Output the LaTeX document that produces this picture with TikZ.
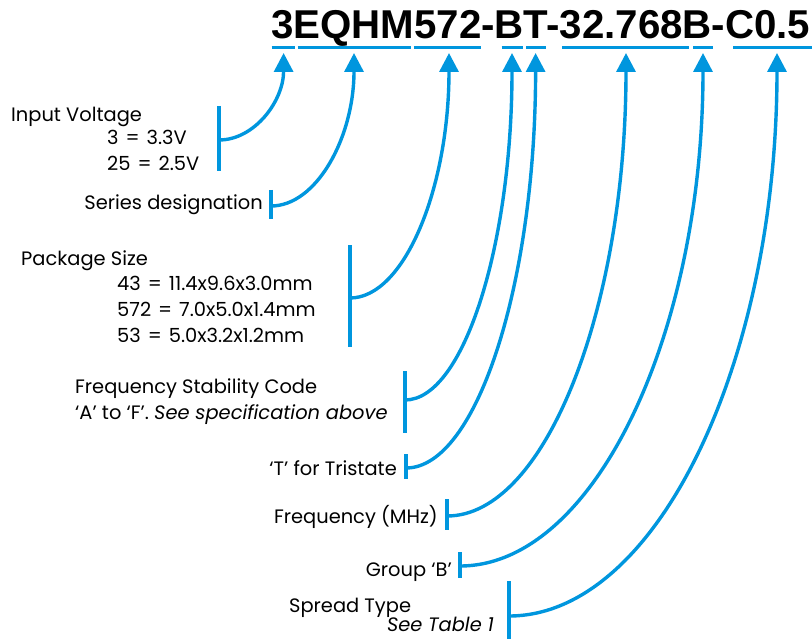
\documentclass[tikz,border=0pt]{standalone}
\usepackage{fontspec}
\setmainfont{Poppins}[Numbers=Monospaced]
\newfontfamily\titlefont{Liberation Sans}
\usetikzlibrary{arrows.meta,calc}
\definecolor{ebl}{RGB}{0,150,222}
\newcommand{\eqs}{\hspace{0.36em}=\hspace{0.36em}}
\tikzset{
  lbl/.style={inner sep=0pt, font=\fontsize{19.5}{23}\selectfont, text=black},
  bar/.style={draw=ebl, line width=3.6bp},
  uline/.style={draw=ebl, line width=3.6bp},
  conn/.style={draw=ebl, line width=3.4bp, -{Triangle[width=19bp,length=19bp]}},
}
\begin{document}
\begin{tikzpicture}[x=1bp,y=-1bp]
\useasboundingbox (0,0) rectangle (812,639);
% title
\node[anchor=base west, inner sep=0pt, font=\titlefont\bfseries\fontsize{40.4}{44}\selectfont] (title) at (271,39) {3EQHM572-BT-32.768B-C0.5};
% underlines
\foreach \a/\b in {271.6/294.5, 297.7/410.7, 413.8/480.7, 501.5/523.3, 526/545.8, 562/689.4, 693/713.4, 733.4/815}
  \draw[uline] (\a,47.5) -- (\b,47.5);
% arrow tips
\coordinate (t1) at (283.6,53);
\coordinate (t2) at (354,53);
\coordinate (t3) at (449,53);
\coordinate (t4) at (512,53);
\coordinate (t5) at (535.6,53);
\coordinate (t6) at (626,53);
\coordinate (t7) at (703,53);
\coordinate (t8) at (777,53);
% labels
\node[lbl, anchor=base west] (iv) at (11,122) {Input Voltage};
\node[lbl, anchor=base west] (iv1) at (107,145) {3\eqs3.3V};
\node[lbl, anchor=base west] (iv2) at (107,171) {25\eqs2.5V};
\node[lbl, anchor=base east] (sd) at (263,210) {Series designation};
\node[lbl, anchor=base west] (ps) at (21,265) {Package Size};
\node[lbl, anchor=base west] (ps1) at (117,290) {43\eqs11.4x9.6x3.0mm};
\node[lbl, anchor=base west] (ps2) at (117,316) {572\eqs7.0x5.0x1.4mm};
\node[lbl, anchor=base west] (ps3) at (117,342) {53\eqs5.0x3.2x1.2mm};
\node[lbl, anchor=base west] (fs) at (75,393) {Frequency Stability Code};
\node[lbl, anchor=base west] (fs1) at (75,419) {‘A’ to ‘F’. \textit{See specification above}};
\node[lbl, anchor=base east] (tr) at (397,475) {‘T’ for Tristate};
\node[lbl, anchor=base east] (fq) at (438,523) {Frequency (MHz)};
\node[lbl, anchor=base east] (gb) at (452,576) {Group ‘B’};
\node[lbl, anchor=base west] (st) at (289,612) {Spread Type};
\node[lbl, anchor=base east] (st1) at (494,631) {\textit{See Table 1}};
% bars
\coordinate (b1a) at (219,106); \coordinate (b1b) at (219,171); \coordinate (j1) at (219,140);
\coordinate (b2a) at (271,190); \coordinate (b2b) at (271,219); \coordinate (j2) at (271,206);
\coordinate (b3a) at (350,245); \coordinate (b3b) at (350,347); \coordinate (j3) at (350,298);
\coordinate (b4a) at (405,371); \coordinate (b4b) at (405,433); \coordinate (j4) at (405,400);
\coordinate (b5a) at (406,454); \coordinate (b5b) at (406,479); \coordinate (j5) at (406,468);
\coordinate (b6a) at (447,499); \coordinate (b6b) at (447,530); \coordinate (j6) at (447,516);
\coordinate (b7a) at (460,552); \coordinate (b7b) at (460,578); \coordinate (j7) at (460,566);
\coordinate (b8a) at (509,581); \coordinate (b8b) at (509,645); \coordinate (j8) at (509,616);
\foreach \i in {1,...,8} \draw[bar] (b\i a) -- (b\i b);
% connectors
\foreach \i in {1,...,8} {
  \draw[conn] (j\i) .. controls ($(j\i)!0.55!(j\i -| t\i)$) and ($(t\i)!0.55!(j\i -| t\i)$) .. (t\i);
}
\end{tikzpicture}
\end{document}
